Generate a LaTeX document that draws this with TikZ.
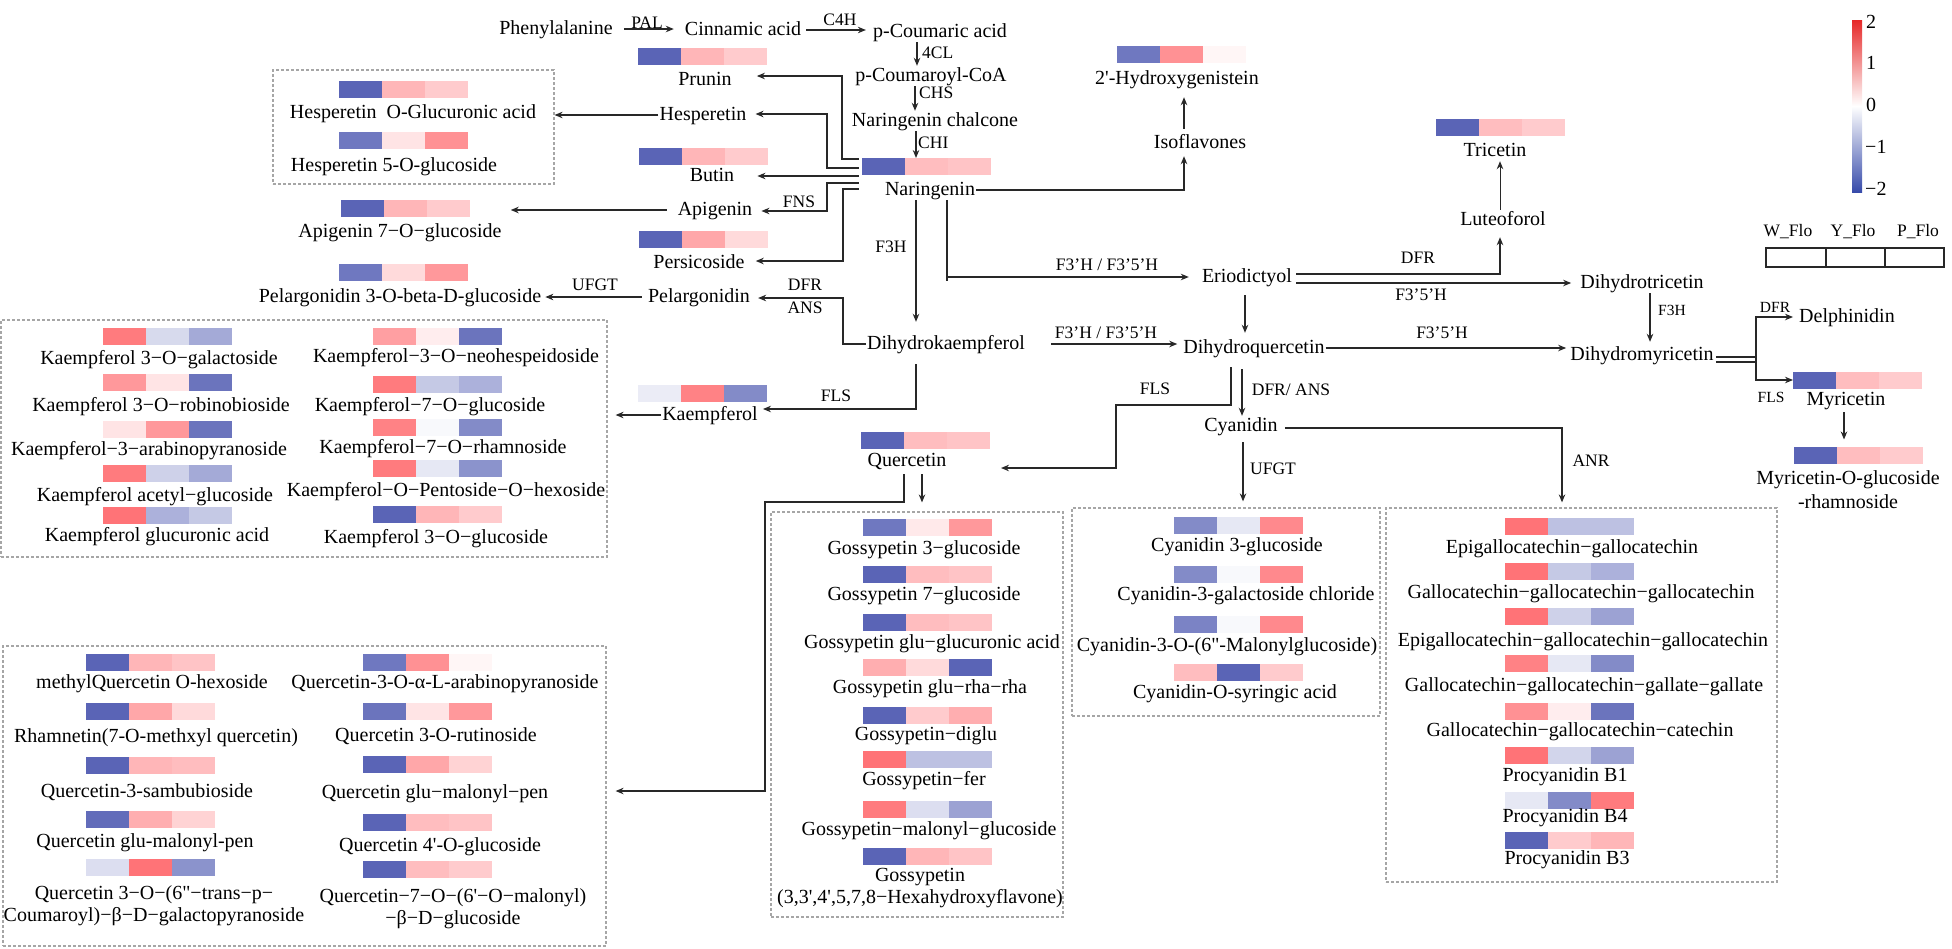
\documentclass[tikz,border=0pt]{standalone}
\usepackage{fontspec}
\setmainfont{Liberation Serif}
\usetikzlibrary{arrows.meta,calc}
\definecolor{lc}{RGB}{40,40,40}
\definecolor{hb}{RGB}{90,100,182}
\definecolor{hr}{RGB}{255,108,112}
\definecolor{cbr}{RGB}{230,40,40}
\definecolor{cbb}{RGB}{55,75,170}
\colorlet{B100}{hb}\colorlet{B95}{hb!95!white}\colorlet{B90}{hb!90!white}
\colorlet{B85}{hb!87!white}\colorlet{B75}{hb!80!white}\colorlet{B70}{hb!75!white}
\colorlet{B65}{hb!70!white}\colorlet{B55}{hb!60!white}\colorlet{B50}{hb!55!white}
\colorlet{B45}{hb!50!white}\colorlet{B35}{hb!40!white}\colorlet{B30}{hb!35!white}
\colorlet{B25}{hb!30!white}\colorlet{B22}{hb!27!white}\colorlet{B20}{hb!24!white}
\colorlet{B18}{hb!21!white}\colorlet{B12}{hb!15!white}\colorlet{B10}{hb!12!white}
\colorlet{B3}{hb!4!white}
\colorlet{R90}{hr!95!white}\colorlet{R85}{hr!90!white}\colorlet{R80}{hr!85!white}
\colorlet{R75}{hr!80!white}\colorlet{R70}{hr!75!white}\colorlet{R65}{hr!70!white}
\colorlet{R60}{hr!65!white}\colorlet{R55}{hr!60!white}\colorlet{R50}{hr!55!white}
\colorlet{R45}{hr!50!white}\colorlet{R40}{hr!45!white}\colorlet{R35}{hr!40!white}
\colorlet{R30}{hr!35!white}\colorlet{R25}{hr!30!white}\colorlet{R20}{hr!25!white}
\colorlet{R15}{hr!18!white}\colorlet{R12}{hr!15!white}\colorlet{R10}{hr!12!white}
\colorlet{R5}{hr!6!white}
\newcommand{\sq}{\textquotesingle}
\newcommand{\dq}{\textquotedbl}
% heatmap bar: name, cx, cy, c1, c2, c3
\newcommand{\hm}[6]{%
  \node[inner sep=0pt, outer sep=0pt, minimum width=129pt, minimum height=17pt] (#1) at (#2,#3) {};
  \fill[#4] ({#2-64.5},{#3-8.5}) rectangle ({#2-21.5},{#3+8.5});
  \fill[#5] ({#2-21.5},{#3-8.5}) rectangle ({#2+21.5},{#3+8.5});
  \fill[#6] ({#2+21.5},{#3-8.5}) rectangle ({#2+64.5},{#3+8.5});
}
\tikzset{
  lab/.style={font=\fontsize{20}{22}\selectfont, inner sep=1pt, text height=14pt, text depth=4pt},
  lab2/.style={font=\fontsize{20}{22}\selectfont, inner sep=1pt, align=center},
  enz/.style={font=\fontsize{17.5}{19}\selectfont, inner sep=1pt},
  enzs/.style={font=\fontsize{15.5}{17}\selectfont, inner sep=1pt},
  cbl/.style={font=\fontsize{20}{22}\selectfont, inner sep=1pt, anchor=west},
  arr/.style={draw=lc, line width=1.3pt, -{Stealth[length=8pt,width=6.5pt]}},
  ln/.style={draw=lc, line width=1.3pt},
  dbox/.style={draw=gray!70, line width=1.2pt, dash pattern=on 3pt off 2pt, inner sep=0pt},
}
\begin{document}
\begin{tikzpicture}[x=1pt,y=-1pt]
\useasboundingbox (0,0) rectangle (1952,948);

% ---------- top chain ----------
\node[lab] (phe) at (556,29) {Phenylalanine};
\node[lab] (cin) at (743,30) {Cinnamic acid};
\node[lab] (pca) at (940,32) {p-Coumaric acid};
\node[lab] (pcoa) at (931,76) {p-Coumaroyl-CoA};
\node[lab] (chal) at (935,121) {Naringenin chalcone};
\hm{narbar}{926}{166.5}{B100}{R40}{R35}
\node[lab] (nar) at (930,190) {Naringenin};

\draw[arr, shorten <=10pt, shorten >=10pt] (phe.east) -- (phe.east -| cin.west);
\node[enz] (pal) at (647,23) {PAL};
\draw[arr, shorten <=4pt, shorten >=6pt] (cin.east) -- (cin.east -| pca.west);
\node[enz] (c4h) at (840,20) {C4H};
\draw[arr] (917,0 |- pca.south) -- (917,0 |- pcoa.north);
\node[enz, anchor=west] (fcl) at (921,53) {4CL};
\draw[arr] (915,0 |- pcoa.south) -- (915,0 |- chal.north);
\node[enz, anchor=west] (chs) at (918,93) {CHS};
\draw[arr] (916,0 |- chal.south) -- (916,0 |- narbar.north);
\node[enz, anchor=west] (chi) at (917,143) {CHI};

% ---------- isoflavones ----------
\node[lab] (iso) at (1200,143) {Isoflavones};
\hm{hgbar}{1181}{54.5}{B85}{R70}{R5}
\node[lab] (hg) at (1177,79) {2\sq-Hydroxygenistein};
\draw[arr, shorten >=3pt] (nar.east) -| (1184,0 |- iso.south);
\draw[arr, shorten <=4pt, shorten >=8pt] (1184,0 |- iso.north) -- (1184,0 |- hg.south);

% ---------- eriodictyol ----------
\node[lab] (erio) at (1247,277) {Eriodictyol};
\coordinate (jE) at (947,277);
\draw[ln] (947,0 |- nar.south) -- ($(jE)+(0,4)$);
\draw[arr, shorten >=12pt] (jE) -- (jE -| erio.west);
\node[enz] (fa) at (1107,265) {F3'H / F3'5'H};

% ---------- dihydrokaempferol ----------
\node[lab] (dhk) at (946,344) {Dihydrokaempferol};
\draw[arr, shorten >=12pt] (916,0 |- nar.south) -- (916,0 |- dhk.north);
\node[enz] (fb) at (891,247) {F3H};

% ---------- tricetin / luteoforol ----------
\hm{tricbar}{1500.5}{127.5}{B100}{R40}{R30}
\node[lab] (tric) at (1495,151) {Tricetin};
\node[lab] (lut) at (1503,220) {Luteoforol};
\draw[arr, line width=1pt] (1500,0 |- lut.north) -- (1500,0 |- tric.south);
\node[lab] (dht) at (1642,283) {Dihydrotricetin};
\coordinate (eA) at ($(erio.east)+(3,-3)$);
\coordinate (eB) at ($(erio.east)+(3,6)$);
\draw[arr, shorten >=7pt] (eA) -| (1500,0 |- lut.south);
\node[enz] (fc) at (1418,258) {DFR};
\draw[arr, shorten >=8pt] (eB) -- (eB -| dht.west);
\node[enz] (fd) at (1421,295) {F3'5'H};

% ---------- dihydromyricetin ----------
\node[lab] (dhm) at (1642,355) {Dihydromyricetin};
\draw[arr, shorten >=3pt] (1650,0 |- dht.south) -- (1650,0 |- dhm.north);
\node[enzs] (fe) at (1672,310) {F3H};

% ---------- dihydroquercetin ----------
\node[lab] (dhq) at (1254,348) {Dihydroquercetin};
\draw[arr, shorten <=25pt, shorten >=5pt] (dhk.east) -- (dhk.east -| dhq.west);
\node[enz] (ff) at (1106,333) {F3'H / F3'5'H};
\draw[arr, shorten <=8pt, shorten >=5pt] (1245,0 |- erio.south) -- (1245,0 |- dhq.north);
\draw[arr, shorten >=3pt] (dhq.east) -- (dhq.east -| dhm.west);
\node[enz] (fg) at (1442,333) {F3'5'H};

% ---------- delphinidin / myricetin ----------
\node[lab] (delph) at (1847,317) {Delphinidin};
\hm{myrbar}{1857.5}{380}{B100}{R40}{R30}
\node[lab] (myr) at (1846,400) {Myricetin};
\hm{mogbar}{1858.5}{455}{B100}{R40}{R30}
\node[lab2, font=\fontsize{20}{24}\selectfont] (mog) at (1848,490) {Myricetin-O-glucoside\\-rhamnoside};
\draw[ln] ($(dhm.east)+(1,2)$) -- ++(40,0);
\draw[ln] ($(dhm.east)+(1,7)$) -- ++(40,0);
\coordinate (dmj) at ($(dhm.east)+(41,4.5)$);
\draw[arr, shorten >=5pt] (dmj) |- (delph.west);
\draw[arr] (dmj) |- (myrbar.west);
\node[enzs] (fh) at (1775,307) {DFR};
\node[enzs] (fi) at (1771,397) {FLS};
\draw[arr, shorten <=2pt, shorten >=7pt] (1844,0 |- myr.south) -- (1844,0 |- mogbar.north);

% ---------- cyanidin ----------
\node[lab] (cyan) at (1241,426) {Cyanidin};
\draw[arr, shorten <=11pt] (1242,0 |- dhq.south) -- (1242,0 |- cyan.north);
\node[enz] (fj) at (1291,390) {DFR/ ANS};

% ---------- quercetin ----------
\hm{qbar}{925.5}{440.5}{B100}{R40}{R35}
\node[lab] (quer) at (907,461) {Quercetin};
\coordinate (fq1) at (1231,405);
\coordinate (fq2) at (1116,468);
\draw[arr, shorten <=9pt] (1231,0 |- dhq.south) -- (fq1) -| (fq2) -- ($(qbar.east)+(11,27.5)$);
\node[enz] (fk) at (1155,389) {FLS};

% ---------- kaempferol ----------
\hm{kaebar}{702.5}{393}{B10}{R80}{B70}
\node[lab] (kae) at (710,415) {Kaempferol};
\coordinate (kb) at (916,409);
\draw[arr, shorten <=10pt, shorten >=4pt] (916,0 |- dhk.south) -- (kb) -- (kb -| kae.east);
\node[enz] (fl) at (836,396) {FLS};

% ---------- pelargonidin ----------
\node[lab] (pel) at (699,297) {Pelargonidin};
\coordinate (pb) at (843,298);
\draw[arr, shorten >=7pt] (dhk.west) -| (pb) -- (pb -| pel.east);
\node[enz] (fm) at (805,285) {DFR};
\node[enz] (fn) at (805,308) {ANS};
\hm{pelgbar}{403.5}{272.5}{B85}{R20}{R65}
\node[lab] (pelg) at (400,297) {Pelargonidin 3-O-beta-D-glucoside};
\draw[arr, shorten <=5pt, shorten >=3pt] (pel.west) -- (pel.west -| pelg.east);
\node[enz] (fo) at (595,285) {UFGT};

% ---------- naringenin side branches ----------
\hm{prbar}{702}{56.5}{B100}{R45}{R30}
\node[lab] (prunin) at (705,80) {Prunin};
\node[lab] (hesp) at (703,115) {Hesperetin};
\hm{butbar}{703}{156.5}{B100}{R45}{R30}
\node[lab] (butin) at (712,176) {Butin};
\node[lab] (api) at (715,210) {Apigenin};
\node[enz] (fp) at (799,202) {FNS};
\hm{persbar}{703}{239}{B100}{R55}{R20}
\node[lab] (pers) at (699,263) {Persicoside};

\coordinate (nw1) at ($(narbar.west)+(-3,-7.5)$);
\coordinate (nw2) at ($(narbar.west)+(-3,1.5)$);
\coordinate (nw3) at ($(narbar.west)+(-3,9.5)$);
\coordinate (nw4) at ($(narbar.west)+(-3,16.5)$);
\coordinate (nw5) at ($(narbar.west)+(-3,22.5)$);
\coordinate (bp1) at (842,76);
\coordinate (bp2) at (827,114);
\coordinate (bp4) at (827,211);
\coordinate (bp5) at (843,261);
\draw[arr, shorten >=24pt] (nw1) -| (bp1) -- (bp1 -| prunin.east);
\draw[arr, shorten >=8pt] (nw2) -| (bp2) -- (bp2 -| hesp.east);
\draw[arr, shorten >=22pt] (nw3) -- (nw3 -| butin.east);
\draw[arr, shorten >=8pt] (nw4) -| (bp4) -- (bp4 -| api.east);
\draw[arr, shorten >=10pt] (nw5) -| (bp5) -- (bp5 -| pers.east);

% ---------- hesperetin box ----------
\node[dbox, minimum width=281pt, minimum height=114pt] (hbox) at (413.5,127) {};
\hm{hbar1}{403}{89}{B100}{R45}{R30}
\node[lab] (ht1) at (413,113) {Hesperetin\ \ O-Glucuronic acid};
\hm{hbar2}{403.5}{140.5}{B85}{R15}{R70}
\node[lab] (ht2) at (394,166) {Hesperetin 5-O-glucoside};
\draw[arr] (hesp.west) -- (hesp.west -| hbox.east);

% ---------- apigenin 7 ----------
\hm{a7bar}{405.5}{208.5}{B100}{R45}{R30}
\node[lab] (apig7) at (400,232) {Apigenin 7−O−glucoside};
\draw[arr, shorten <=10pt, shorten >=8pt] (api.west) -- (api.west -| apig7.east);

% ---------- kaempferol box ----------
\node[dbox, minimum width=606pt, minimum height=237pt] (kbox) at (304,438.5) {};
\draw[arr, shorten >=8pt] (kae.west) -- (kae.west -| kbox.east);
\hm{kl1}{167}{336}{R85}{B20}{B50}
\node[lab] (kt1) at (159,359) {Kaempferol 3−O−galactoside};
\hm{kl2}{167}{382.5}{R65}{R15}{B90}
\node[lab] (kt2) at (161,406) {Kaempferol 3−O−robinobioside};
\hm{kl3}{167}{429.5}{R15}{R65}{B90}
\node[lab] (kt3) at (149,450) {Kaempferol−3−arabinopyranoside};
\hm{kl4}{167}{473.5}{R85}{B25}{B50}
\node[lab] (kt4) at (155,496) {Kaempferol acetyl−glucoside};
\hm{kl5}{167}{515.5}{R90}{B45}{B30}
\node[lab] (kt5) at (157,536) {Kaempferol glucuronic acid};
\hm{kr1}{437.5}{336}{R60}{R10}{B90}
\node[lab] (kt6) at (456,357) {Kaempferol−3−O−neohespeidoside};
\hm{kr2}{437.5}{384}{R85}{B30}{B45}
\node[lab] (kt7) at (430,406) {Kaempferol−7−O−glucoside};
\hm{kr3}{437.5}{427.5}{R80}{B3}{B70}
\node[lab] (kt8) at (443,448) {Kaempferol−7−O−rhamnoside};
\hm{kr4}{437.5}{468}{R85}{B12}{B65}
\node[lab] (kt9) at (446,491) {Kaempferol−O−Pentoside−O−hexoside};
\hm{kr5}{437.5}{514}{B100}{R45}{R30}
\node[lab] (kt10) at (436,538) {Kaempferol 3−O−glucoside};

% ---------- gossypetin box ----------
\node[dbox, minimum width=292pt, minimum height=405pt] (gbox) at (917,714.5) {};
\draw[arr, shorten <=3pt, shorten >=9pt] (922,0 |- quer.south) -- (922,0 |- gbox.north);
\hm{g1}{927.5}{527.5}{B85}{R12}{R65}
\node[lab] (gt1) at (924,549) {Gossypetin 3−glucoside};
\hm{g2}{927.5}{574.5}{B100}{R40}{R35}
\node[lab] (gt2) at (924,595) {Gossypetin 7−glucoside};
\hm{g3}{927.5}{622.5}{B100}{R40}{R35}
\node[lab] (gt3) at (932,643) {Gossypetin glu−glucuronic acid};
\hm{g4}{927.5}{667}{R50}{R20}{B100}
\node[lab] (gt4) at (930,688) {Gossypetin glu−rha−rha};
\hm{g5}{927.5}{715}{B100}{R30}{R50}
\node[lab] (gt5) at (926,735) {Gossypetin−diglu};
\hm{g6}{927.5}{759}{R90}{B35}{B35}
\node[lab] (gt6) at (924,780) {Gossypetin−fer};
\hm{g7}{927.5}{809}{R85}{B18}{B55}
\node[lab] (gt7) at (929,830) {Gossypetin−malonyl−glucoside};
\hm{g8}{927.5}{856}{B100}{R45}{R35}
\node[lab2] (gt8) at (920,888) {Gossypetin\\(3,3\sq,4\sq,5,7,8−Hexahydroxyflavone)};

% ---------- quercetin box ----------
\node[dbox, minimum width=603pt, minimum height=300pt] (qbox) at (304.5,796) {};
\coordinate (qa) at (904,502);
\coordinate (qb) at (765,791);
\draw[arr, shorten <=3pt, shorten >=9pt] (904,0 |- quer.south) -- (qa) -| (qb) -- (qb -| qbox.east);
\hm{ql1}{150}{662}{B100}{R45}{R35}
\node[lab] (qt1) at (152,683) {methylQuercetin O-hexoside};
\hm{ql2}{150}{711}{B100}{R55}{R20}
\node[lab] (qt2) at (156,737) {Rhamnetin(7-O-methxyl quercetin)};
\hm{ql3}{150}{765}{B100}{R45}{R40}
\node[lab] (qt3) at (147,792) {Quercetin-3-sambubioside};
\hm{ql4}{150}{819}{B95}{R50}{R25}
\node[lab] (qt4) at (145,842) {Quercetin glu-malonyl-pen};
\hm{ql5}{150}{867}{B18}{R90}{B65}
\node[lab2] (qt5) at (154,906) {Quercetin 3−O−(6\dq−trans−p−\\Coumaroyl)−β−D−galactopyranoside};
\hm{qr1}{427.5}{662}{B85}{R70}{R5}
\node[lab] (qt6) at (445,683) {Quercetin-3-O-α-L-arabinopyranoside};
\hm{qr2}{427.5}{711}{B90}{R15}{R65}
\node[lab] (qt7) at (436,736) {Quercetin 3-O-rutinoside};
\hm{qr3}{427.5}{764}{B100}{R55}{R25}
\node[lab] (qt8) at (435,793) {Quercetin glu−malonyl−pen};
\hm{qr4}{427.5}{822}{B100}{R40}{R35}
\node[lab] (qt9) at (440,846) {Quercetin 4\sq-O-glucoside};
\hm{qr5}{427.5}{869}{B100}{R40}{R30}
\node[lab2] (qt10) at (453,908.5) {Quercetin−7−O−(6\sq−O−malonyl)\\−β−D−glucoside};

% ---------- cyanidin box ----------
\node[dbox, minimum width=308pt, minimum height=208pt] (cbox) at (1226,612) {};
\draw[arr, shorten <=6pt, shorten >=6pt] (1243,0 |- cyan.south) -- (1243,0 |- cbox.north);
\node[enz] (fq) at (1273,469) {UFGT};
\hm{c1}{1238.5}{525.5}{B70}{B12}{R75}
\node[lab] (ct1) at (1237,546) {Cyanidin 3-glucoside};
\hm{c2}{1238.5}{574.5}{B70}{B3}{R75}
\node[lab] (ct2) at (1246,595) {Cyanidin-3-galactoside chloride};
\hm{c3}{1238.5}{624.5}{B75}{B3}{R75}
\node[lab] (ct3) at (1227,646) {Cyanidin-3-O-(6\dq-Malonylglucoside)};
\hm{c4}{1238.5}{672.5}{R40}{B100}{R30}
\node[lab] (ct4) at (1235,693) {Cyanidin-O-syringic acid};

% ---------- ANR box ----------
\node[dbox, minimum width=391pt, minimum height=374pt] (abox) at (1581.5,695) {};
\draw[arr, shorten >=5pt] ($(cyan.east)+(6,2)$) -| (1562,0 |- abox.north);
\node[enz] (fr) at (1591,461) {ANR};
\hm{e1}{1569}{526}{R90}{B35}{B35}
\node[lab] (et1) at (1572,548) {Epigallocatechin−gallocatechin};
\hm{e2}{1569}{571}{R90}{B30}{B45}
\node[lab] (et2) at (1581,593) {Gallocatechin−gallocatechin−gallocatechin};
\hm{e3}{1569}{616}{R90}{B25}{B55}
\node[lab] (et3) at (1583,641) {Epigallocatechin−gallocatechin−gallocatechin};
\hm{e4}{1569}{663.5}{R80}{B12}{B70}
\node[lab] (et4) at (1584,686) {Gallocatechin−gallocatechin−gallate−gallate};
\hm{e5}{1569}{711.5}{R70}{R10}{B90}
\node[lab] (et5) at (1580,731) {Gallocatechin−gallocatechin−catechin};
\hm{e6}{1569}{755}{R90}{B22}{B55}
\node[lab] (et6) at (1565,776) {Procyanidin B1};
\hm{e7}{1569}{800}{B12}{B70}{R85}
\node[lab] (et7) at (1565,817) {Procyanidin B4};
\hm{e8}{1569}{840}{B100}{R30}{R45}
\node[lab] (et8) at (1567,859) {Procyanidin B3};

% ---------- colour bar ----------
\shade[top color=cbr, bottom color=cbb, middle color=white] (1852,20) rectangle (1862,192);
\node[cbl] (cb2) at (1865,22) {2};
\node[cbl] (cb1) at (1865,63) {1};
\node[cbl] (cb0) at (1865,105) {0};
\node[cbl] (cbm1) at (1864,147) {−1};
\node[cbl] (cbm2) at (1864,189) {−2};

% ---------- legend ----------
\node[enz] (lw) at (1788,232) {W\_Flo};
\node[enz] (ly) at (1853,232) {Y\_Flo};
\node[enz] (lp) at (1918,232) {P\_Flo};
\draw[line width=1.3pt, draw=lc] (1766,248) rectangle (1944,267);
\draw[line width=1.3pt, draw=lc] (1826,248) -- (1826,267);
\draw[line width=1.3pt, draw=lc] (1885,248) -- (1885,267);
\end{tikzpicture}
\end{document}
